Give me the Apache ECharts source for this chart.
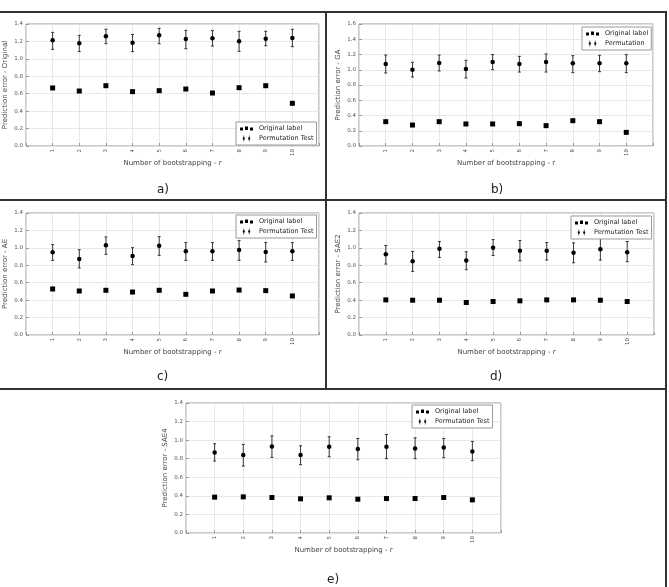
<!DOCTYPE html>
<html><head><meta charset="utf-8">
<script src="https://cdn.jsdelivr.net/npm/echarts@6/dist/echarts.min.js"></script>
<style>html,body{margin:0;padding:0;background:#fff}#c{width:669px;height:587px}</style>
</head><body><div id="c"></div>
<script>
// ---- data ----
var bootstrap = [1,2,3,4,5,6,7,8,9,10];
var yTicksA = [0,0.2,0.4,0.6,0.8,1.0,1.2,1.4];
var yTicksB = [0,0.2,0.4,0.6,0.8,1.0,1.2,1.4,1.6];

var panelLabels = ['a)','b)','c)','d)','e)'];
var yNames = ['Prediction error - Original','Prediction error - GA','Prediction error - AE','Prediction error - SAE2','Prediction error - SAE4'];
var xName = 'Number of bootstrapping - r';
var origName = 'Original label';
var permNames = ['Permutation Test','Permutation','Permutation Test','Permutation Test','Permutation Test'];

var origA = [0.666,0.631,0.692,0.624,0.635,0.654,0.608,0.669,0.692,0.490];
var permA = [1.213,1.178,1.259,1.186,1.270,1.228,1.236,1.201,1.232,1.239];
var permLoA = [1.109,1.083,1.174,1.083,1.174,1.117,1.147,1.086,1.151,1.140];
var permHiA = [1.304,1.270,1.339,1.280,1.350,1.327,1.324,1.316,1.316,1.339];

var origB = [0.319,0.275,0.319,0.289,0.289,0.293,0.267,0.332,0.319,0.179];
var permB = [1.075,1.001,1.089,1.010,1.102,1.075,1.102,1.084,1.084,1.084];
var permLoB = [0.957,0.905,0.984,0.892,1.001,0.970,0.970,0.962,0.975,0.962];
var permHiB = [1.193,1.097,1.193,1.124,1.198,1.176,1.207,1.185,1.189,1.198];

var origC = [0.528,0.505,0.513,0.493,0.513,0.467,0.505,0.516,0.509,0.448];
var permC = [0.949,0.872,1.029,0.907,1.025,0.960,0.960,0.976,0.953,0.960];
var permLoC = [0.857,0.769,0.926,0.807,0.914,0.857,0.857,0.857,0.838,0.857];
var permHiC = [1.037,0.979,1.125,1.002,1.129,1.060,1.060,1.083,1.060,1.060];

var origD = [0.403,0.399,0.399,0.373,0.384,0.392,0.403,0.403,0.399,0.384];
var permD = [0.928,0.845,0.989,0.856,1.000,0.966,0.966,0.943,0.985,0.951];
var permLoD = [0.814,0.730,0.890,0.749,0.913,0.852,0.860,0.829,0.860,0.841];
var permHiD = [1.027,0.959,1.073,0.955,1.095,1.084,1.061,1.057,1.107,1.073];

var origE = [0.386,0.389,0.382,0.368,0.379,0.364,0.371,0.371,0.382,0.357];
var permE = [0.868,0.839,0.932,0.839,0.929,0.904,0.929,0.911,0.921,0.879];
var permLoE = [0.775,0.721,0.814,0.736,0.821,0.789,0.800,0.800,0.811,0.779];
var permHiE = [0.961,0.954,1.046,0.939,1.036,1.018,1.061,1.025,1.018,0.986];

// ---- build ----
var panels = [
  {orig:origA, perm:permA, lo:permLoA, hi:permHiA, ticks:yTicksA},
  {orig:origB, perm:permB, lo:permLoB, hi:permHiB, ticks:yTicksB},
  {orig:origC, perm:permC, lo:permLoC, hi:permHiC, ticks:yTicksA},
  {orig:origD, perm:permD, lo:permLoD, hi:permHiD, ticks:yTicksA},
  {orig:origE, perm:permE, lo:permLoE, hi:permHiE, ticks:yTicksA}
];
var gridPos = [
  {left:26, top:24, width:293, height:122},
  {left:359, top:24, width:294, height:122},
  {left:26, top:213, width:293, height:122},
  {left:359, top:213, width:295, height:122},
  {left:186, top:403, width:315, height:130}
];
var legendPos = [
  {left:236, top:122},
  {left:582, top:27},
  {left:236, top:215},
  {left:571, top:216},
  {left:412, top:405}
];
var labelPos = [[163,192],[497,192],[163,379],[496,379],[333,582]];

var FONT = 'DejaVu Sans';
var iconOrig = 'path://M0,1h3v3h-3z M5,0h3v3.6h-3z M10,1h3v3h-3z';
var iconPerm = 'path://M1.6,0h0.8v9h-0.8z M0.5,3h3v3h-3z M9.6,0h0.8v9h-0.8z M8.5,3h3v3h-3z';

var option = {
  animation:false,
  backgroundColor:'#fff',
  textStyle:{fontFamily:FONT},
  grid:[], xAxis:[], yAxis:[], series:[], legend:[], graphic:[]
};

panels.forEach(function(p, i){
  var g = gridPos[i];
  option.grid.push({left:g.left, top:g.top, width:g.width, height:g.height, show:true, borderColor:'#999', borderWidth:1, backgroundColor:'transparent'});
  option.xAxis.push({
    type:'value', gridIndex:i, min:0, max:11, interval:1,
    name:xName, nameLocation:'middle', nameGap:10,
    nameTextStyle:{fontSize:7, color:'#444', fontFamily:FONT},
    axisLine:{show:false},
    axisTick:{show:true, inside:true, length:3, lineStyle:{color:'#999'}},
    splitLine:{show:true, lineStyle:{color:'#e2e2e2', width:0.8}},
    axisLabel:{fontSize:5.5, color:'#555', rotate:90, margin:3, fontFamily:FONT,
      formatter:function(v){ return (v>=1 && v<=10) ? String(bootstrap[v-1]) : ''; }}
  });
  var tk = p.ticks;
  var yMax = tk[tk.length-1];
  option.yAxis.push({
    type:'value', gridIndex:i, min:0, max:yMax, interval:0.2,
    name:yNames[i], nameLocation:'middle', nameGap:17, nameRotate:90,
    nameTextStyle:{fontSize:7, color:'#444', fontFamily:FONT},
    axisLine:{show:false},
    axisTick:{show:true, inside:true, length:3, lineStyle:{color:'#999'}},
    splitLine:{show:true, lineStyle:{color:'#e2e2e2', width:0.8}},
    axisLabel:{fontSize:5.5, color:'#555', margin:3, fontFamily:FONT,
      formatter:function(v){ return v.toFixed(1); }}
  });
  option.series.push({
    type:'custom', name:permNames[i], xAxisIndex:i, yAxisIndex:i, z:3,
    data: bootstrap.map(function(b, k){ return [b, p.lo[k], p.hi[k]]; }),
    renderItem:function(params, api){
      var x = api.value(0);
      var a = api.coord([x, api.value(1)]);
      var b = api.coord([x, api.value(2)]);
      var st = {stroke:'#222', lineWidth:0.9};
      return {type:'group', children:[
        {type:'line', shape:{x1:a[0], y1:a[1], x2:b[0], y2:b[1]}, style:st},
        {type:'line', shape:{x1:a[0]-1.5, y1:a[1], x2:a[0]+1.5, y2:a[1]}, style:st},
        {type:'line', shape:{x1:b[0]-1.5, y1:b[1], x2:b[0]+1.5, y2:b[1]}, style:st}
      ]};
    },
    itemStyle:{color:'#000'}
  });
  option.series.push({
    type:'scatter', name:permNames[i], xAxisIndex:i, yAxisIndex:i, z:4,
    symbol:'circle', symbolSize:4.5, itemStyle:{color:'#000', opacity:1},
    data: bootstrap.map(function(b, k){ return [b, p.perm[k]]; })
  });
  option.series.push({
    type:'scatter', name:origName, xAxisIndex:i, yAxisIndex:i, z:4,
    symbol:'rect', symbolSize:5, itemStyle:{color:'#000', opacity:1},
    data: bootstrap.map(function(b, k){ return [b, p.orig[k]]; })
  });
  var lp = legendPos[i];
  option.legend.push({
    left:lp.left, top:lp.top, orient:'vertical',
    data:[{name:origName, icon:iconOrig}, {name:permNames[i], icon:iconPerm}],
    itemWidth:13, itemHeight:6, itemGap:3,
    padding:[3,3,3,4],
    borderColor:'#999', borderWidth:1, backgroundColor:'#fff',
    selectedMode:false,
    textStyle:{fontSize:6.5, color:'#222', fontFamily:FONT, padding:[0,0,0,1]},
    itemStyle:{color:'#000', opacity:1}
  });
  option.graphic.push({type:'text', left:labelPos[i][0]-6, top:labelPos[i][1]-8,
    style:{text:panelLabels[i], fontSize:12, fill:'#222', fontFamily:FONT}});
});

// frame lines
var lineSt = {stroke:'#333', lineWidth:2};
option.graphic.push(
  {type:'line', shape:{x1:0, y1:12, x2:667, y2:12}, style:lineSt},
  {type:'line', shape:{x1:0, y1:200, x2:667, y2:200}, style:lineSt},
  {type:'line', shape:{x1:0, y1:389, x2:667, y2:389}, style:lineSt},
  {type:'line', shape:{x1:326, y1:12, x2:326, y2:389}, style:lineSt},
  {type:'line', shape:{x1:666, y1:12, x2:666, y2:587}, style:lineSt}
);

var chart = echarts.init(document.getElementById('c'), null, {renderer:'canvas'});
chart.setOption(option);
</script>
</body></html>
